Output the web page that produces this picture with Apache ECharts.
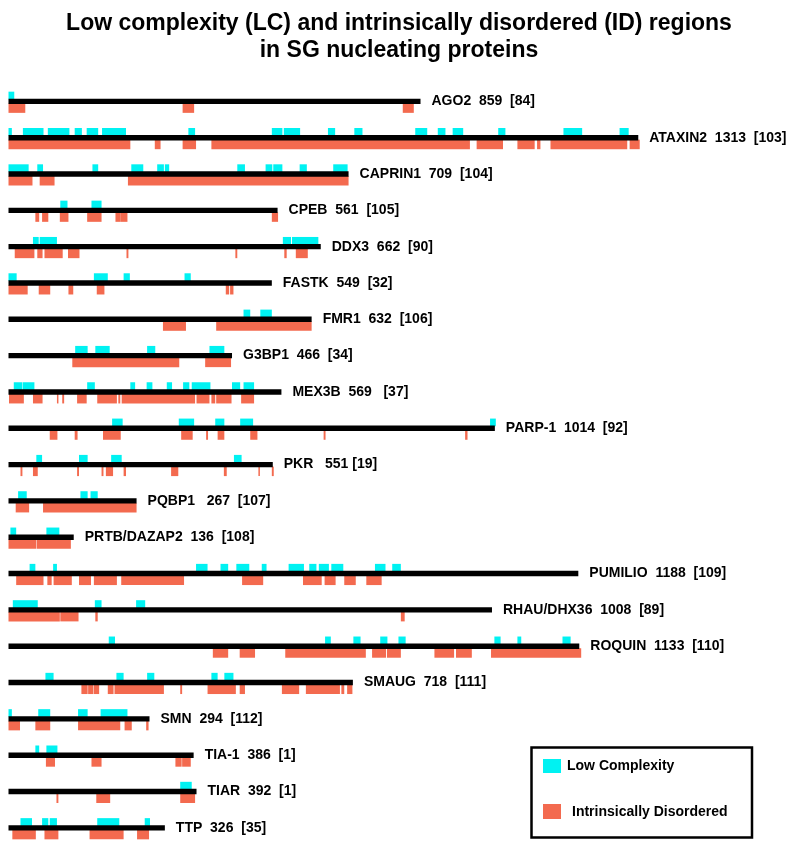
<!DOCTYPE html>
<html>
<head>
<meta charset="utf-8">
<script src="https://cdn.jsdelivr.net/npm/echarts@6/dist/echarts.min.js"></script>
<style>
  html, body { margin: 0; padding: 0; background: #fff; }
  #chart { width: 800px; height: 846px; }
</style>
</head>
<body>
<div id="chart"></div>
<script>
/// data (residue numbers)

const proteins = ['AGO2', 'ATAXIN2', 'CAPRIN1', 'CPEB', 'DDX3', 'FASTK', 'FMR1', 'G3BP1',
  'MEX3B', 'PARP-1', 'PKR', 'PQBP1', 'PRTB/DAZAP2', 'PUMILIO', 'RHAU/DHX36', 'ROQUIN',
  'SMAUG', 'SMN', 'TIA-1', 'TIAR', 'TTP'];

const labels = ['AGO2  859  [84]', 'ATAXIN2  1313  [103]', 'CAPRIN1  709  [104]', 'CPEB  561  [105]',
  'DDX3  662  [90]', 'FASTK  549  [32]', 'FMR1  632  [106]', 'G3BP1  466  [34]', 'MEX3B  569   [37]',
  'PARP-1  1014  [92]', 'PKR   551 [19]', 'PQBP1   267  [107]', 'PRTB/DAZAP2  136  [108]',
  'PUMILIO  1188  [109]', 'RHAU/DHX36  1008  [89]', 'ROQUIN  1133  [110]', 'SMAUG  718  [111]',
  'SMN  294  [112]', 'TIA-1  386  [1]', 'TIAR  392  [1]', 'TTP  326  [35]'];

// drawn length of each black line
const lengths = [859, 1313, 709, 561, 651, 549, 632, 466, 569, 1014, 551, 267, 136, 1188, 1008,
  1190, 718, 294, 386, 392, 326];

// low complexity regions [start, end]
const lcRegions = [
  [[1, 12]],
  [[1, 7], [31, 73], [83, 127], [139, 153], [164, 187], [196, 245], [376, 389], [550, 571], [575, 608],
   [667, 681], [722, 738], [849, 873], [896, 911], [927, 948], [1022, 1036], [1158, 1196], [1275, 1293]],
  [[1, 42], [61, 72], [176, 187], [257, 281], [311, 324], [327, 335], [478, 493], [537, 550], [553, 571],
   [608, 622], [678, 707]],
  [[109, 123], [174, 194]],
  [[52, 63], [66, 101], [573, 589], [592, 646]],
  [[1, 17], [179, 207], [241, 253], [368, 380]],
  [[491, 504], [526, 549]],
  [[140, 165], [182, 211], [290, 306], [420, 450]],
  [[12, 29], [31, 54], [165, 180], [255, 264], [289, 300], [331, 341], [365, 377], [383, 421],
   [467, 483], [491, 512]],
  [[217, 238], [356, 387], [432, 450], [484, 510], [1005, 1016]],
  [[59, 70], [148, 165], [215, 236], [471, 486]],
  [[21, 38], [151, 165], [172, 186]],
  [[5, 16], [80, 106]],
  [[45, 56], [94, 101], [392, 415], [443, 458], [476, 502], [529, 538], [585, 616], [628, 642],
   [648, 668], [674, 698], [765, 786], [801, 818]],
  [[10, 61], [181, 194], [267, 285]],
  [[210, 222], [661, 672], [720, 734], [776, 790], [814, 828], [1014, 1026], [1062, 1069], [1156, 1172]],
  [[78, 94], [226, 240], [290, 304], [424, 436], [451, 469]],
  [[1, 7], [63, 87], [146, 165], [193, 248]],
  [[57, 64], [80, 102]],
  [[359, 382]],
  [[26, 49], [71, 83], [87, 101], [186, 231], [285, 295]]
];

// intrinsically disordered regions [start, end]
const idRegions = [
  [[1, 35], [364, 387], [823, 845]],
  [[1, 254], [306, 317], [364, 391], [424, 962], [977, 1031], [1062, 1097], [1103, 1109],
   [1131, 1290], [1296, 1316]],
  [[1, 50], [66, 96], [250, 709]],
  [[57, 64], [71, 83], [108, 125], [165, 194], [224, 233], [234, 248], [550, 562]],
  [[14, 54], [61, 71], [76, 113], [125, 148], [247, 250], [474, 477], [576, 580], [600, 624]],
  [[1, 40], [64, 87], [126, 135], [185, 200], [454, 460], [463, 469]],
  [[323, 370], [434, 632]],
  [[134, 356], [411, 464]],
  [[2, 32], [52, 71], [102, 104], [113, 116], [144, 163], [186, 226], [230, 233], [237, 389],
   [393, 419], [424, 431], [434, 465], [486, 512]],
  [[87, 102], [139, 144], [198, 234], [361, 384], [413, 416], [437, 450], [505, 519], [658, 661], [953, 957]],
  [[26, 29], [52, 61], [144, 147], [195, 198], [204, 218], [241, 245], [340, 354], [450, 455],
   [522, 524], [550, 553]],
  [[16, 43], [73, 267]],
  [[1, 58], [60, 130]],
  [[17, 73], [82, 90], [95, 132], [148, 172], [179, 226], [236, 366], [488, 531], [615, 653],
   [660, 682], [701, 724], [747, 778]],
  [[1, 107], [109, 146], [182, 186], [819, 826]],
  [[427, 458], [483, 514], [578, 745], [759, 787], [790, 818], [889, 929], [934, 966], [1007, 1194]],
  [[153, 165], [167, 177], [179, 189], [208, 219], [222, 324], [359, 362], [416, 474], [483, 493],
   [571, 606], [621, 691], [695, 700], [707, 717]],
  [[1, 24], [57, 87], [146, 233], [243, 257], [288, 292]],
  [[79, 97], [174, 194], [349, 361], [363, 380]],
  [[101, 104], [184, 212], [359, 389]],
  [[9, 57], [76, 104], [170, 240], [269, 293]]
];


/// helpers

const LC_COLOR = '#00F2F2';
const ID_COLOR = '#F36A4F';
const FONT = '"Liberation Sans", Arial, sans-serif';

function flatten(regions) {
  const out = [];
  regions.forEach((list, row) => list.forEach(r => out.push([r[0], r[1], row])));
  return out;
}

// rect between two residues on a row, dy offsets from row centre
function regionRenderer(top, bottom) {
  return function (params, api) {
    const a = api.coord([api.value(0) - 1, api.value(2)]);
    const b = api.coord([api.value(1), api.value(2)]);
    return {
      type: 'rect',
      shape: { x: a[0], y: a[1] + top, width: Math.max(b[0] - a[0], 1.5), height: bottom - top },
      style: { fill: api.visual('color') }
    };
  };
}

function lineRenderer(params, api) {
  const row = api.value(1);
  const a = api.coord([0, row]);
  const b = api.coord([api.value(0), row]);
  return {
    type: 'group',
    children: [
      { type: 'rect', shape: { x: a[0], y: a[1] - 2.7, width: b[0] - a[0], height: 5.4 },
        style: { fill: '#000' } },
      { type: 'text', x: b[0] + 11, y: a[1],
        style: { text: labels[row], fill: '#000', font: 'bold 14px ' + FONT, verticalAlign: 'middle' } }
    ]
  };
}


/// chart

const chart = echarts.init(document.getElementById('chart'));

chart.setOption({
  animation: false,
  title: {
    text: 'Low complexity (LC) and intrinsically disordered (ID) regions\nin SG nucleating proteins',
    left: 394,
    top: 5,
    textAlign: 'center',
    textStyle: { fontFamily: FONT, fontWeight: 'bold', fontSize: 23, lineHeight: 27, color: '#000' }
  },
  grid: { left: 8.5, right: 120, top: 83.2, height: 766.5 },
  xAxis: { type: 'value', min: 0, max: 1400, show: false },
  yAxis: { type: 'category', data: proteins, inverse: true, show: false },
  series: [
    { type: 'custom', name: 'Low Complexity', color: LC_COLOR,
      renderItem: regionRenderer(-9.7, -2), data: flatten(lcRegions) },
    { type: 'custom', name: 'Intrinsically Disordered', color: ID_COLOR,
      renderItem: regionRenderer(2, 11.5), data: flatten(idRegions) },
    { type: 'custom', name: 'protein', z: 3,
      renderItem: lineRenderer, data: lengths.map((len, i) => [len, i]) }
  ],
  graphic: [
    { type: 'rect', shape: { x: 531.5, y: 747.5, width: 220.5, height: 90 },
      style: { fill: 'none', stroke: '#000', lineWidth: 2.5 } },
    { type: 'rect', shape: { x: 543, y: 759, width: 18, height: 14 }, style: { fill: LC_COLOR } },
    { type: 'text', x: 567, y: 766,
      style: { text: 'Low Complexity', font: 'bold 14px ' + FONT, fill: '#000', verticalAlign: 'middle' } },
    { type: 'rect', shape: { x: 543, y: 804, width: 18, height: 15 }, style: { fill: ID_COLOR } },
    { type: 'text', x: 572, y: 812,
      style: { text: 'Intrinsically Disordered', font: 'bold 14px ' + FONT, fill: '#000', verticalAlign: 'middle' } }
  ]
});
</script>
</body>
</html>
